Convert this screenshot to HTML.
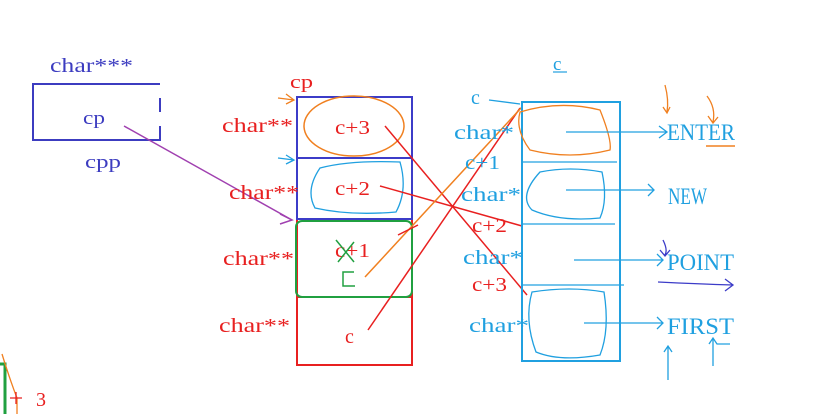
<!DOCTYPE html>
<html><head><style>
html,body{margin:0;padding:0;background:#fff;}
svg{display:block;}
text{font-family:"Liberation Serif",serif;}
</style></head><body>
<svg width="822" height="414" viewBox="0 0 822 414" xmlns="http://www.w3.org/2000/svg">
<!-- left cpp box -->
<text x="50" y="72" font-size="20" fill="#3c3cc0" textLength="83" lengthAdjust="spacingAndGlyphs">char***</text>
<path d="M160 84 H33 V140 H160 V126 M160 112 V98" stroke="#3c3cc0" stroke-width="2" fill="none"/>
<text x="83" y="124" font-size="19" fill="#3c3cc0" textLength="22" lengthAdjust="spacingAndGlyphs">cp</text>
<text x="85" y="168" font-size="19" fill="#3c3cc0" textLength="36" lengthAdjust="spacingAndGlyphs">cpp</text>
<line x1="124" y1="126" x2="292" y2="220" stroke="#a040b0" stroke-width="1.5"/>
<path d="M280 214 L292 220 L280 224" stroke="#a040b0" stroke-width="1.5" fill="none"/>

<!-- middle column -->
<rect x="297" y="97" width="115" height="268" fill="none" stroke="#e82020" stroke-width="2"/>
<line x1="297" y1="297" x2="412" y2="297" stroke="#e82020" stroke-width="2"/>
<rect x="297" y="97" width="115" height="61" fill="none" stroke="#3c3cc8" stroke-width="2"/>
<rect x="297" y="158" width="115" height="61" fill="none" stroke="#3c3cc8" stroke-width="2"/>
<rect x="296" y="221" width="116" height="76" rx="6" fill="none" stroke="#20a040" stroke-width="2"/>
<ellipse cx="354" cy="126" rx="50" ry="30" fill="none" stroke="#f08020" stroke-width="1.5"/>
<path d="M320 168 Q350 160 400 162 Q408 190 396 212 Q350 216 315 208 Q305 190 320 168Z" fill="none" stroke="#20a0e0" stroke-width="1.3"/>
<text x="290" y="88" font-size="19" fill="#e82020" textLength="23" lengthAdjust="spacingAndGlyphs">cp</text>
<g font-size="20" fill="#e82020">
<text x="222" y="132" textLength="71" lengthAdjust="spacingAndGlyphs">char**</text>
<text x="229" y="199" textLength="70" lengthAdjust="spacingAndGlyphs">char**</text>
<text x="223" y="265" textLength="71" lengthAdjust="spacingAndGlyphs">char**</text>
<text x="219" y="332" textLength="71" lengthAdjust="spacingAndGlyphs">char**</text>
<text x="335" y="134" textLength="35" lengthAdjust="spacingAndGlyphs">c+3</text>
<text x="335" y="195" textLength="35" lengthAdjust="spacingAndGlyphs">c+2</text>
<text x="335" y="257" textLength="35" lengthAdjust="spacingAndGlyphs">c+1</text>
<text x="345" y="343">c</text>
</g>
<path d="M336 240 L354 262 M354 242 L338 262" stroke="#20a040" stroke-width="1.5"/>
<path d="M354 272 H343 V286 H355" stroke="#20a040" stroke-width="1.5" fill="none"/>
<path d="M278 98 L294 100 M286 94 L294 100 L286 104" stroke="#f08020" stroke-width="1.3" fill="none"/>
<path d="M278 158 L294 160 M286 155 L294 160 L286 164" stroke="#20a0e0" stroke-width="1.3" fill="none"/>

<!-- crossing lines -->
<line x1="385" y1="126" x2="527" y2="295" stroke="#e82020" stroke-width="1.5"/>
<line x1="380" y1="186" x2="522" y2="226" stroke="#e82020" stroke-width="1.5"/>
<line x1="368" y1="330" x2="520" y2="108" stroke="#e82020" stroke-width="1.5"/>
<line x1="365" y1="277" x2="522" y2="107" stroke="#f08020" stroke-width="1.5"/>
<line x1="398" y1="235" x2="418" y2="225" stroke="#e82020" stroke-width="1.5"/>

<!-- right column -->
<text x="553" y="70" font-size="19" fill="#20a0e0">c</text>
<line x1="553" y1="72" x2="567" y2="72" stroke="#20a0e0" stroke-width="1.2"/>
<rect x="522" y="102" width="98" height="259" fill="none" stroke="#20a0e0" stroke-width="2"/>
<line x1="522" y1="162" x2="617" y2="162" stroke="#20a0e0" stroke-width="1.3"/>
<line x1="522" y1="224" x2="615" y2="224" stroke="#20a0e0" stroke-width="1.3"/>
<line x1="522" y1="285" x2="624" y2="285" stroke="#20a0e0" stroke-width="1.3"/>
<path d="M520 112 Q560 100 600 110 Q612 140 610 150 Q570 160 530 150 Q515 130 520 112Z" fill="none" stroke="#f08020" stroke-width="1.3"/>
<path d="M540 172 Q570 166 602 172 Q608 200 600 218 Q560 222 532 210 Q518 196 540 172Z" fill="none" stroke="#20a0e0" stroke-width="1.3"/>
<path d="M532 292 Q570 286 604 292 Q610 330 600 355 Q560 362 536 352 Q524 320 532 292Z" fill="none" stroke="#20a0e0" stroke-width="1.3"/>
<g font-size="20" fill="#20a0e0">
<text x="471" y="104">c</text>
<text x="454" y="139" textLength="60" lengthAdjust="spacingAndGlyphs">char*</text>
<text x="465" y="169" textLength="35" lengthAdjust="spacingAndGlyphs">c+1</text>
<text x="461" y="201" textLength="60" lengthAdjust="spacingAndGlyphs">char*</text>
<text x="463" y="264" textLength="60" lengthAdjust="spacingAndGlyphs">char*</text>
<text x="469" y="332" textLength="60" lengthAdjust="spacingAndGlyphs">char*</text>
</g>
<g font-size="20" fill="#e82020">
<text x="472" y="232" textLength="35" lengthAdjust="spacingAndGlyphs">c+2</text>
<text x="472" y="291" textLength="35" lengthAdjust="spacingAndGlyphs">c+3</text>
</g>
<line x1="489" y1="100" x2="520" y2="104" stroke="#20a0e0" stroke-width="1.3"/>
<g stroke="#20a0e0" stroke-width="1.3" fill="none">
<path d="M566 132 H667 M659 126 L667 132 L659 138"/>
<path d="M566 190 H654 M648 184 L654 190 L648 196"/>
<path d="M574 260 H663 M657 254 L663 260 L657 266"/>
<path d="M584 323 H663 M657 317 L663 323 L657 329"/>
<path d="M668 380 V346 M664 352 L668 346 L672 352"/>
<path d="M713 366 V338 M709 344 L713 338 L717 344 H730"/>
</g>
<path d="M658 282 Q700 284 733 285 M725 279 L733 285 L725 291" stroke="#3c3cc8" stroke-width="1.3" fill="none"/>
<path d="M663 240 Q668 250 665 255 M660 250 L665 256 L670 250" stroke="#3c3cc8" stroke-width="1.3" fill="none"/>
<path d="M665 85 Q669 100 667 112 M663 107 L667 113 L670 107" stroke="#f08020" stroke-width="1.3" fill="none"/>
<path d="M707 96 Q716 108 713 122 M708 116 L713 123 L718 117" stroke="#f08020" stroke-width="1.3" fill="none"/>
<line x1="706" y1="146" x2="735" y2="146" stroke="#f08020" stroke-width="1.5"/>
<g font-size="23" fill="#20a0e0">
<text x="667" y="140" textLength="68" lengthAdjust="spacingAndGlyphs">ENTER</text>
<text x="668" y="204" textLength="39" lengthAdjust="spacingAndGlyphs">NEW</text>
<text x="667" y="270" textLength="67" lengthAdjust="spacingAndGlyphs">POINT</text>
<text x="667" y="334" textLength="67" lengthAdjust="spacingAndGlyphs">FIRST</text>
</g>

<!-- bottom-left fragment -->
<path d="M0 364 H5 V414" stroke="#20a040" stroke-width="3" fill="none"/>
<path d="M2 354 Q10 380 17 398 V414" stroke="#f08020" stroke-width="1.3" fill="none"/>
<path d="M10 398 H22 M16 392 V404" stroke="#e82020" stroke-width="1.3"/>
<text x="36" y="406" font-size="20" fill="#e82020">3</text>
</svg>
</body></html>
